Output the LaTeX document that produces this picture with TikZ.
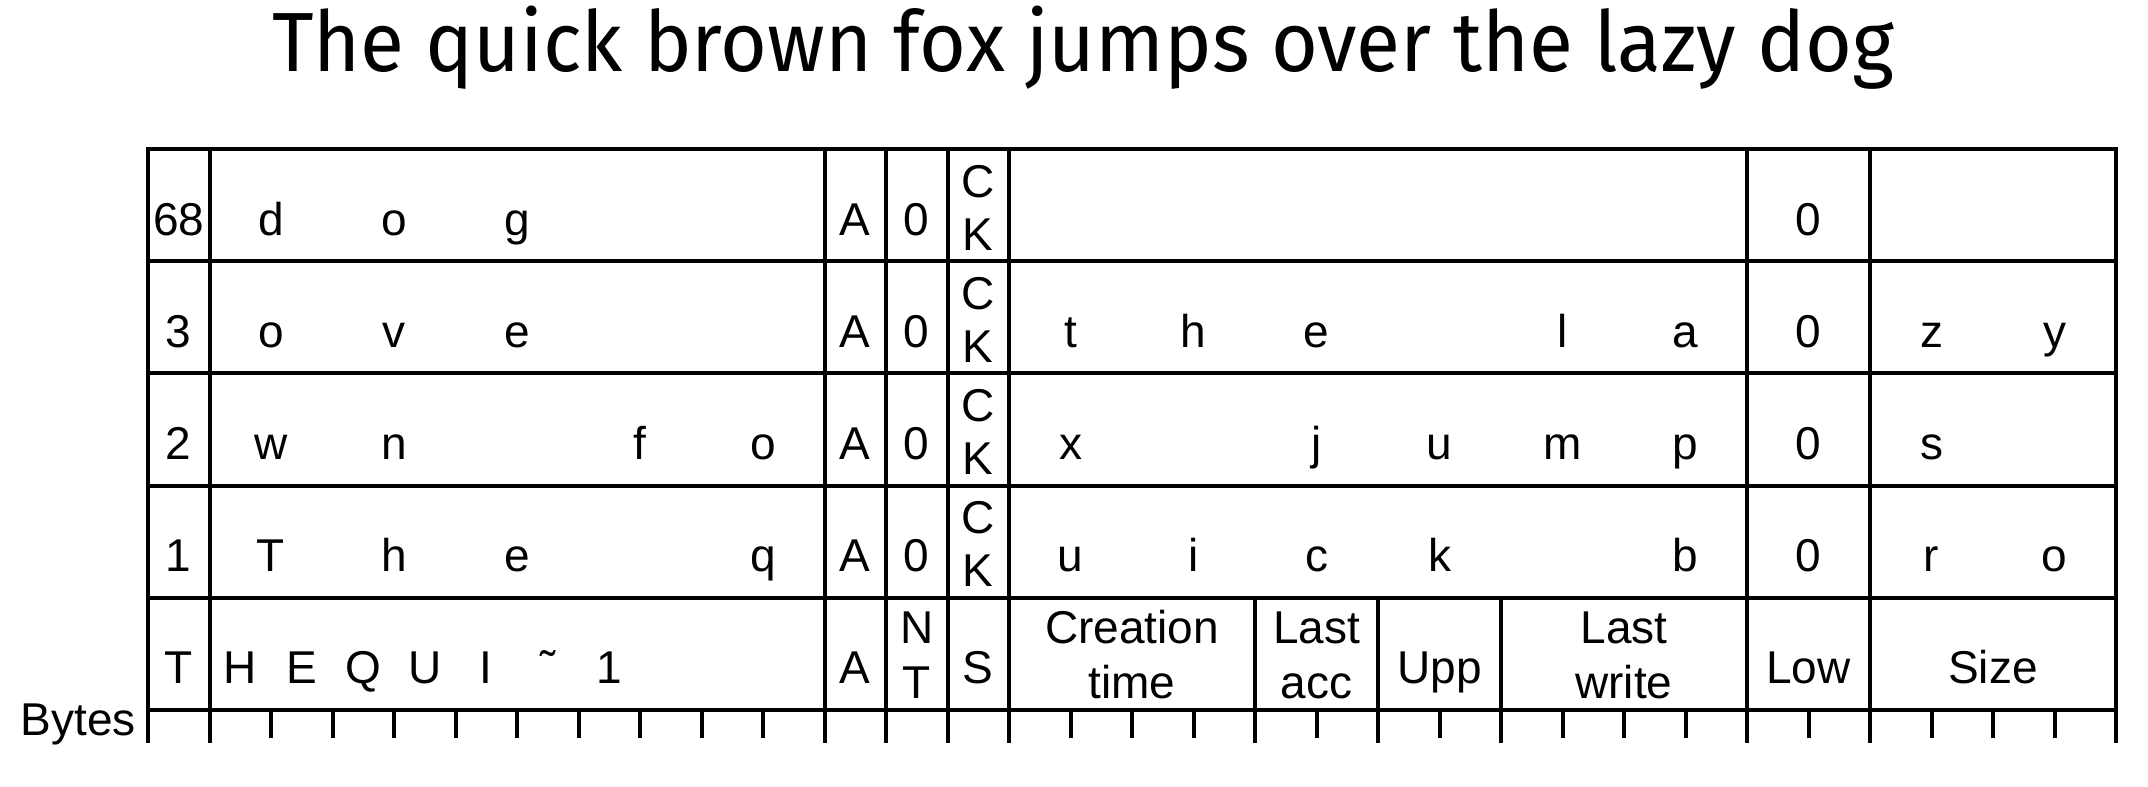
\documentclass[tikz,border=0pt]{standalone}
\usepackage{graphicx}
\usepackage{fontspec}
\setmainfont{Liberation Sans}
\newfontfamily\titlefont{Fira Sans}
\newcommand\tabfont{\fontsize{34.5}{41}\selectfont}
\newcommand\putch[4]{\node[txt] (#1) at ({148+61.5*(#2)},#3) {#4};}
\begin{document}
\begin{tikzpicture}[x=0.75pt,y=-0.75pt,
  grid/.style={line width=3pt,line cap=rect},
  vline/.style={line width=3pt},
  minortick/.style={line width=3pt},
  txt/.style={inner sep=0pt,anchor=base,font=\tabfont}]
\useasboundingbox (0,0) rectangle (2148,786);
% title
\node[inner sep=0pt,anchor=base,font=\titlefont\fontsize{63}{70}\selectfont] (title) at (1083,71.7) {\scalebox{0.957}[1]{The quick brown fox jumps over the lazy dog}};
% horizontal lines
\foreach \r in {0,...,5} \draw[grid] (148,{149+112.2*\r}) -- (2116,{149+112.2*\r});
% vertical lines through all rows
\foreach \b in {0,1,11,12,13,14,26,28,32} \draw[vline] ({148+61.5*\b},149) -- ({148+61.5*\b},743);
% vertical lines in bottom row only
\foreach \b in {18,20,22} \draw[vline] ({148+61.5*\b},598) -- ({148+61.5*\b},743);
% byte ticks
\foreach \b in {2,...,10,15,16,17,19,21,23,24,25,27,29,30,31} \draw[minortick] ({148+61.5*\b},710) -- ({148+61.5*\b},738);
% Bytes label
\node[inner sep=0pt,anchor=base east,font=\tabfont] (bytes) at (136,735) {Bytes};
% row 0 : 68
\putch{s0}{0.5}{235}{68}
\putch{a0}{2}{235}{d}
\putch{b0}{4}{235}{o}
\putch{c0}{6}{235}{g}
\putch{at0}{11.5}{235}{A}
\putch{z0}{12.5}{235}{0}
\putch{ck0c}{13.5}{197}{C}
\putch{ck0k}{13.5}{250}{K}
\putch{l0}{27}{235}{0}
% row 1 : 3
\putch{s1}{0.5}{347.2}{3}
\putch{a1}{2}{347.2}{o}
\putch{b1}{4}{347.2}{v}
\putch{c1}{6}{347.2}{e}
\putch{at1}{11.5}{347.2}{A}
\putch{z1}{12.5}{347.2}{0}
\putch{ck1c}{13.5}{309.2}{C}
\putch{ck1k}{13.5}{362.2}{K}
\putch{f1}{15}{347.2}{t}
\putch{g1}{17}{347.2}{h}
\putch{h1}{19}{347.2}{e}
\putch{j1}{23}{347.2}{l}
\putch{k1}{25}{347.2}{a}
\putch{l1}{27}{347.2}{0}
\putch{m1}{29}{347.2}{z}
\putch{n1}{31}{347.2}{y}
% row 2 : 2
\putch{s2}{0.5}{459.4}{2}
\putch{a2}{2}{459.4}{w}
\putch{b2}{4}{459.4}{n}
\putch{d2}{8}{459.4}{f}
\putch{e2}{10}{459.4}{o}
\putch{at2}{11.5}{459.4}{A}
\putch{z2}{12.5}{459.4}{0}
\putch{ck2c}{13.5}{421.4}{C}
\putch{ck2k}{13.5}{474.4}{K}
\putch{f2}{15}{459.4}{x}
\putch{h2}{19}{459.4}{j}
\putch{i2}{21}{459.4}{u}
\putch{j2}{23}{459.4}{m}
\putch{k2}{25}{459.4}{p}
\putch{l2}{27}{459.4}{0}
\putch{m2}{29}{459.4}{s}
% row 3 : 1
\putch{s3}{0.5}{571.6}{1}
\putch{a3}{2}{571.6}{T}
\putch{b3}{4}{571.6}{h}
\putch{c3}{6}{571.6}{e}
\putch{e3}{10}{571.6}{q}
\putch{at3}{11.5}{571.6}{A}
\putch{z3}{12.5}{571.6}{0}
\putch{ck3c}{13.5}{533.6}{C}
\putch{ck3k}{13.5}{586.6}{K}
\putch{f3}{15}{571.6}{u}
\putch{g3}{17}{571.6}{i}
\putch{h3}{19}{571.6}{c}
\putch{i3}{21}{571.6}{k}
\putch{k3}{25}{571.6}{b}
\putch{l3}{27}{571.6}{0}
\putch{m3}{29}{571.6}{r}
\putch{n3}{31}{571.6}{o}
% bottom row : MS-DOS entry
\putch{t4}{0.5}{683}{T}
\putch{n4a}{1.5}{683}{H}
\putch{n4b}{2.5}{683}{E}
\putch{n4c}{3.5}{683}{Q}
\putch{n4d}{4.5}{683}{U}
\putch{n4e}{5.5}{683}{I}
\putch{n4f}{6.5}{683}{\symbol{"02DC}}
\putch{n4g}{7.5}{683}{1}
\putch{attr4}{11.5}{683}{A}
\putch{nt4n}{12.5}{643}{N}
\putch{nt4t}{12.5}{698}{T}
\putch{sec4}{13.5}{683}{S}
\putch{cr4a}{16}{643}{Creation}
\putch{cr4b}{16}{698}{time}
\putch{la4a}{19}{643}{Last}
\putch{la4b}{19}{698}{acc}
\putch{upp4}{21}{683}{Upp}
\putch{lw4a}{24}{643}{Last}
\putch{lw4b}{24}{698}{write}
\putch{low4}{27}{683}{Low}
\putch{size4}{30}{683}{Size}
\end{tikzpicture}
\end{document}
